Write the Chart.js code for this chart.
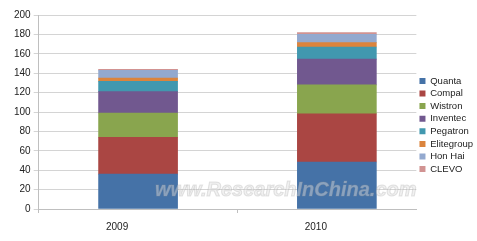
<!DOCTYPE html>
<html>
<head>
<meta charset="utf-8">
<script src="https://cdn.jsdelivr.net/npm/chart.js@4"></script>
<style>
  html, body { margin: 0; padding: 0; background: #fff; }
  #wrap { width: 477px; height: 241px; }
</style>
</head>
<body>
<div id="wrap"><canvas id="c"></canvas></div>
<script>
// categories and series
const years = ['2009', '2010'];
const makers = ['Quanta', 'Compal', 'Wistron', 'Inventec', 'Pegatron', 'Elitegroup', 'Hon Hai', 'CLEVO'];
const quanta = [36, 48.5];
const compal = [38, 49.5];
const wistron = [25, 30];
const inventec = [22, 26.5];
const pegatron = [10.5, 12.5];
const elitegroup = [3.5, 4.5];
const honHai = [8, 8.5];
const clevo = [1, 2];
const colors = ['#4572A7', '#AA4643', '#89A54E', '#71588F', '#4198AF', '#DB843D', '#93A9CF', '#D19392'];
const yTicks = [0, 20, 40, 60, 80, 100, 120, 140, 160, 180, 200];

const series = [quanta, compal, wistron, inventec, pegatron, elitegroup, honHai, clevo];

// watermark over the bars
const watermark = {
    id: 'watermark',
    afterDatasetsDraw(chart) {
        const { ctx } = chart;
        ctx.save();
        ctx.font = 'italic bold 20px "Liberation Sans", Arial, sans-serif';
        ctx.textBaseline = 'alphabetic';
        ctx.lineWidth = 1;
        ctx.strokeStyle = 'rgba(150,150,150,0.25)';
        ctx.fillStyle = 'rgba(225,225,225,0.45)';
        ctx.fillText('www.ResearchInChina.com', 155, 196);
        ctx.strokeText('www.ResearchInChina.com', 155, 196);
        ctx.restore();
    }
};

// nudge the legend up a little, like the original
const legendNudge = {
    id: 'legendNudge',
    afterLayout(chart) {
        if (!chart.legend) return;
        chart.legend.top -= 3;
        chart.legend.bottom -= 3;
    }
};

new Chart(document.getElementById('c'), {
    type: 'bar',
    data: {
        datasets: series.map((vals, i) => ({
            label: makers[i],
            data: vals.map((v, j) => ({ x: j, y: v })),
            backgroundColor: colors[i],
            borderWidth: 0,
            barThickness: 79
        }))
    },
    options: {
        responsive: true,
        maintainAspectRatio: false,
        animation: false,
        layout: { padding: { top: 15, bottom: 0, left: 11, right: -6 } },
        plugins: {
            tooltip: { enabled: false },
            legend: {
                position: 'right',
                labels: {
                    boxWidth: 6,
                    boxHeight: 6,
                    padding: 3.1,
                    color: '#222',
                    font: { family: '"Liberation Sans", Arial, sans-serif', size: 9.5 }
                }
            }
        },
        scales: {
            x: {
                type: 'linear',
                stacked: true,
                offset: false,
                min: -0.5,
                max: 1.4,
                afterBuildTicks: (axis) => { axis.ticks = years.map((_, i) => ({ value: i })); },
                ticks: {
                    callback: (v) => years[v],
                    color: '#222',
                    padding: 8,
                    labelOffset: -21,
                    maxRotation: 0,
                    font: { family: '"Liberation Sans", Arial, sans-serif', size: 10 }
                },
                grid: { drawOnChartArea: false, offset: true, tickLength: 4, color: '#bfbfbf' },
                border: { color: '#bfbfbf' }
            },
            y: {
                stacked: true,
                min: 0,
                max: 200,
                afterBuildTicks: (axis) => { axis.ticks = yTicks.map(v => ({ value: v })); },
                ticks: {
                    color: '#222',
                    padding: 3,
                    font: { family: '"Liberation Sans", Arial, sans-serif', size: 10 }
                },
                grid: { color: '#d4d4d4', tickLength: 5 },
                border: { color: '#bfbfbf' }
            }
        }
    },
    plugins: [watermark, legendNudge]
});
</script>
</body>
</html>
